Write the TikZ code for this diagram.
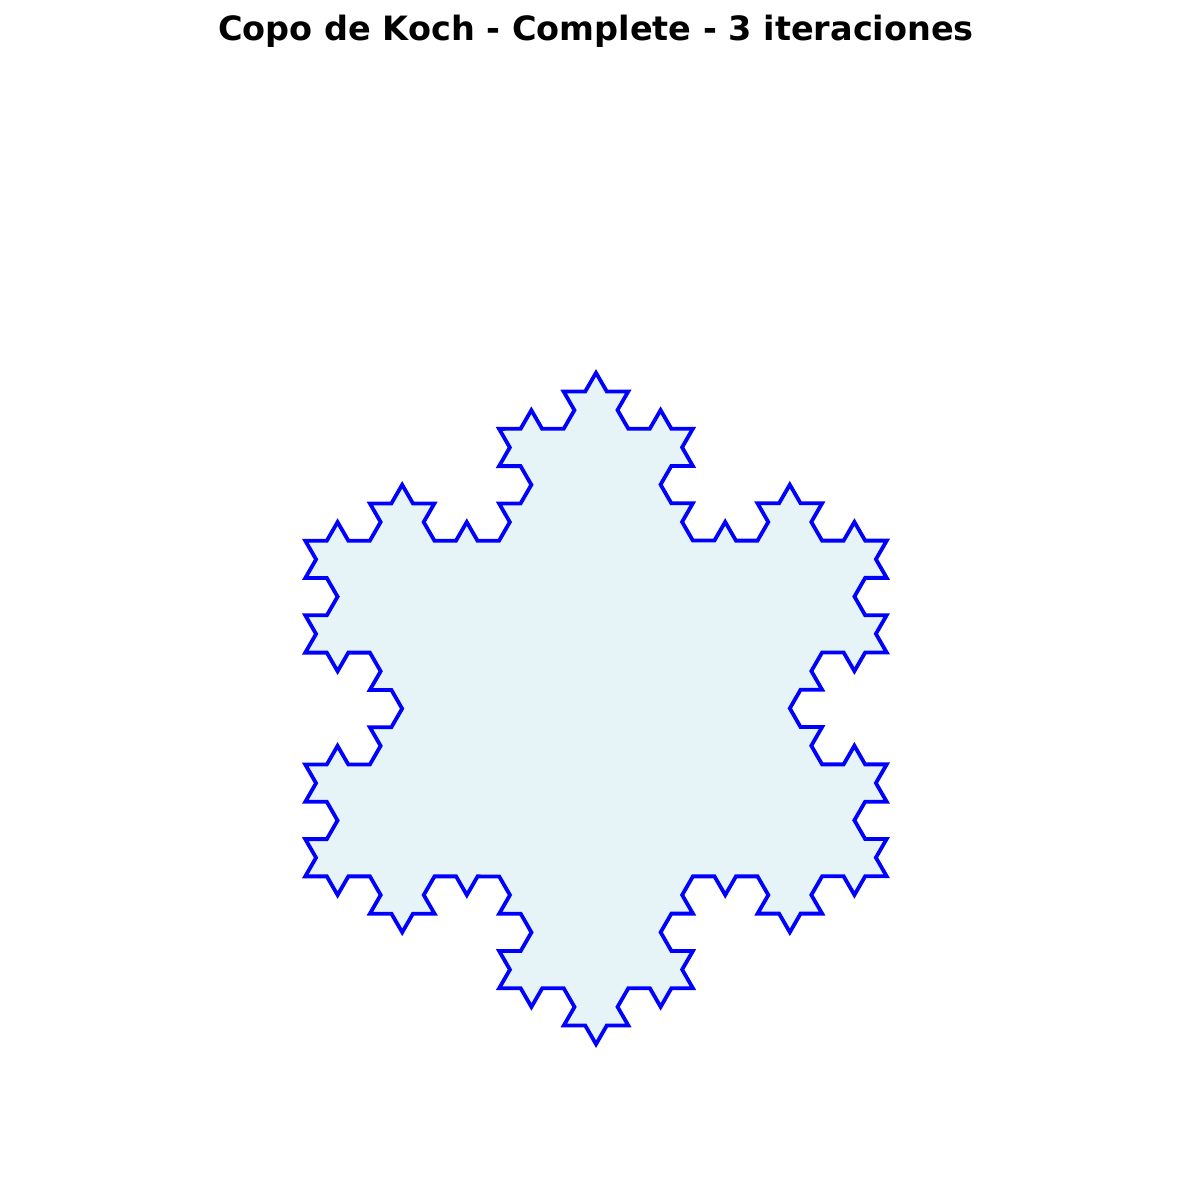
\documentclass[tikz,border=0pt]{standalone}
\usepackage{fontspec}
\setmainfont{DejaVu Sans}
\usetikzlibrary{decorations.fractals}
\definecolor{kochfill}{RGB}{230,243,247}
\begin{document}
\begin{tikzpicture}[x=0.5pt, y=-0.5pt,
    declare function={cx = 596; cy = 708.5; R = 335.7;}]
    % 画布范围
    \useasboundingbox (0,0) rectangle (1192,1182);

    % 标题
    \node[font=\bfseries\fontsize{16.75}{20}\selectfont, anchor=base] (title)
        at (596,41) {Copo de Koch - Complete - 3 iteraciones};

    % 初始三角形的三个顶点
    \coordinate (A) at ({cx}, {cy-R});
    \coordinate (B) at ({cx+R*cos(30)}, {cy+R/2});
    \coordinate (C) at ({cx-R*cos(30)}, {cy+R/2});

    % 三次迭代：填充 + 蓝色边界
    \filldraw[draw=blue, fill=kochfill, line width=1.9pt, line join=miter,
        decoration=Koch snowflake]
        decorate{decorate{decorate{(A) -- (B) -- (C) -- (A)}}} -- cycle;
\end{tikzpicture}
\end{document}
